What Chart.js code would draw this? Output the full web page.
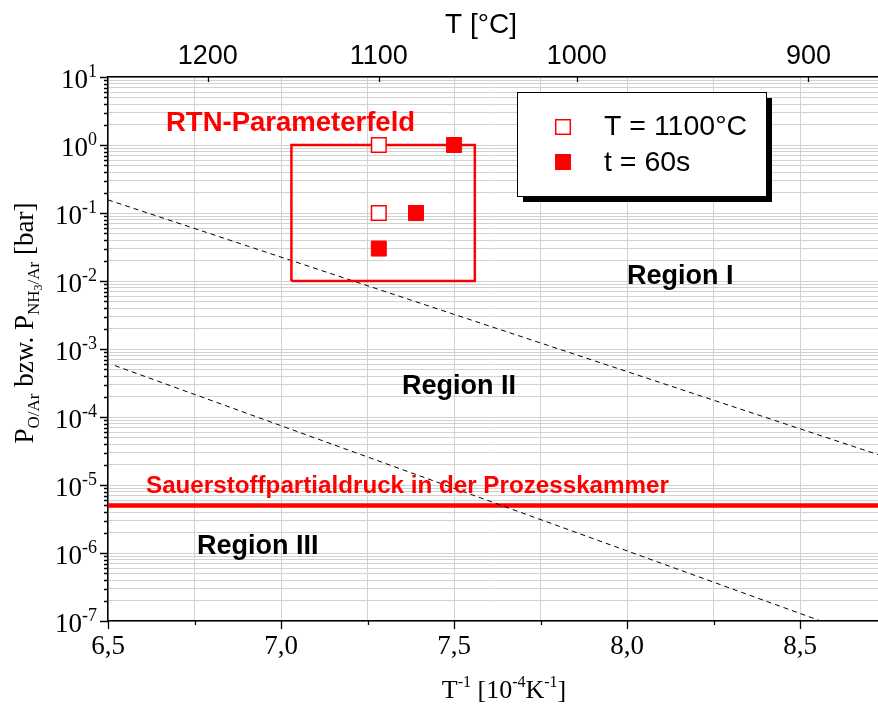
<!DOCTYPE html>
<html><head><meta charset="utf-8">
<script src="https://cdn.jsdelivr.net/npm/chart.js@4/dist/chart.umd.min.js"></script>
<style>html,body{margin:0;padding:0;background:#fff;}canvas{display:block;}</style>
</head><body>
<canvas id="c" width="878" height="707"></canvas>
<script>
// ---- data ----
const xMajorTicks = [6.5, 7.0, 7.5, 8.0, 8.5];
const xMajorLabels = ['6,5', '7,0', '7,5', '8,0', '8,5'];
const xMinorTicks = [6.75, 7.25, 7.75, 8.25];
const topTempsC = [1200, 1100, 1000, 900];
const yDecadeExps = [-7, -6, -5, -4, -3, -2, -1, 0, 1];

const openSqX = [7.2825, 7.2825];          // T = 1100°C
const openSqY = [1, 0.1];
const filledSqX = [7.2825, 7.39, 7.5];      // t = 60s
const filledSqY = [0.03, 0.1, 1];

const rectX = [7.03, 7.03, 7.56, 7.56, 7.03];   // RTN-Parameterfeld
const rectY = [0.01, 1, 1, 0.01, 0.01];

const boundary1X = [6.5, 8.725];
const boundary1Y = [0.156, 2.8e-5];
const boundary2X = [6.52, 8.56];
const boundary2Y = [5.7e-4, 1e-7];

const o2PressureX = [6.5, 8.725];
const o2PressureY = [5e-6, 5e-6];

const legendLabels = ['T = 1100°C', 't = 60s'];

const zip = (xs, ys) => xs.map((x, i) => ({x, y: ys[i]}));
const RED = '#ff0000';
const SERIF = "'Liberation Serif', 'Times New Roman', serif";
const SANS = "'Liberation Sans', Arial, sans-serif";

function richWidth(ctx, parts) {
  let w = 0;
  parts.forEach(p => { ctx.font = (p.weight||'') + ' ' + p.size + 'px ' + p.font; w += ctx.measureText(p.t).width; });
  return w;
}
function drawRich(ctx, parts, x, y, align) {
  const w = richWidth(ctx, parts);
  let cx = align === 'center' ? x - w / 2 : (align === 'right' ? x - w : x);
  ctx.textAlign = 'left';
  ctx.textBaseline = 'alphabetic';
  parts.forEach(p => {
    ctx.font = (p.weight||'') + ' ' + p.size + 'px ' + p.font;
    ctx.fillText(p.t, cx, y + (p.dy || 0));
    cx += ctx.measureText(p.t).width;
  });
}

const decorPlugin = {
  id: 'decor',
  afterDatasetsDraw(chart) {
    const ctx = chart.ctx;
    ctx.save();
    ctx.fillStyle = RED;
    ctx.textBaseline = 'alphabetic';
    ctx.textAlign = 'left';
    ctx.font = 'bold 27.5px ' + SANS;
    ctx.fillText('RTN-Parameterfeld', 166, 131);
    ctx.font = 'bold 24.2px ' + SANS;
    ctx.fillText('Sauerstoffpartialdruck in der Prozesskammer', 146, 493);
    ctx.fillStyle = '#000';
    ctx.font = 'bold 27px ' + SANS;
    ctx.fillText('Region I', 627, 283.5);
    ctx.fillText('Region II', 402, 393.5);
    ctx.fillText('Region III', 197, 554);

    // legend box with shadow
    const bx = 517, by = 92, bw = 249, bh = 104, sh = 6;
    ctx.fillStyle = '#000';
    ctx.fillRect(bx + sh, by + sh, bw, bh);
    ctx.fillStyle = '#fff';
    ctx.fillRect(bx, by, bw, bh);
    ctx.strokeStyle = '#000';
    ctx.lineWidth = 1;
    ctx.strokeRect(bx + 0.5, by + 0.5, bw, bh);
    legendLabels.forEach((lab, i) => {
      const ds = chart.data.datasets[i];
      const cy = 127 + i * 35;
      const side = ds.pointRadius * Math.SQRT2;
      ctx.fillStyle = ds.pointBackgroundColor;
      ctx.fillRect(563 - side / 2, cy - side / 2, side, side);
      ctx.strokeStyle = ds.pointBorderColor;
      ctx.lineWidth = ds.pointBorderWidth;
      ctx.strokeRect(563 - side / 2, cy - side / 2, side, side);
      ctx.fillStyle = '#000';
      ctx.font = '28.5px ' + SANS;
      ctx.fillText(lab, 604, 135 + i * 35.5);
    });
    ctx.restore();
  },
  afterDraw(chart) {
    const ctx = chart.ctx;
    const a = chart.chartArea;
    const xs = chart.scales.x, ys = chart.scales.y, xt = chart.scales.x2;
    ctx.save();
    ctx.strokeStyle = '#000';
    ctx.lineWidth = 1.3;
    ctx.beginPath();
    xMajorTicks.forEach(v => { const p = Math.round(xs.getPixelForValue(v)) + 0.5; ctx.moveTo(p, a.bottom); ctx.lineTo(p, a.bottom + 8); });
    xMinorTicks.forEach(v => { const p = Math.round(xs.getPixelForValue(v)) + 0.5; ctx.moveTo(p, a.bottom); ctx.lineTo(p, a.bottom + 4); });
    yDecadeExps.forEach(k => {
      const p = Math.round(ys.getPixelForValue(Math.pow(10, k))) + 0.5;
      ctx.moveTo(a.left, p); ctx.lineTo(a.left - 8, p);
      if (k < 1) for (let m = 2; m <= 9; m++) {
        const q = Math.round(ys.getPixelForValue(m * Math.pow(10, k))) + 0.5;
        ctx.moveTo(a.left, q); ctx.lineTo(a.left - 4, q);
      }
    });
    topTempsC.forEach(t => { const p = Math.round(xt.getPixelForValue(1e4 / (t + 273.15))) + 0.5; ctx.moveTo(p, a.top); ctx.lineTo(p, a.top + 5); });
    ctx.stroke();

    ctx.fillStyle = '#000';
    yDecadeExps.forEach(k => {
      const p = ys.getPixelForValue(Math.pow(10, k));
      drawRich(ctx, [
        {t: '10', size: 27, font: SERIF, dy: 11},
        {t: String(k), size: 18, font: SERIF, dy: 0}
      ], 97, p, 'right');
    });

    ctx.font = '28px ' + SANS;
    ctx.textAlign = 'center';
    ctx.textBaseline = 'alphabetic';
    ctx.fillText('T [°C]', 481, 33);

    drawRich(ctx, [
      {t: 'T', size: 26, font: SERIF},
      {t: '-1', size: 16, font: SERIF, dy: -11},
      {t: ' [10', size: 26, font: SERIF},
      {t: '-4', size: 16, font: SERIF, dy: -11},
      {t: 'K', size: 26, font: SERIF},
      {t: '-1', size: 16, font: SERIF, dy: -11},
      {t: ']', size: 26, font: SERIF}
    ], 504, 698, 'center');

    ctx.save();
    ctx.translate(33, 323);
    ctx.rotate(-Math.PI / 2);
    drawRich(ctx, [
      {t: 'P', size: 27, font: SERIF},
      {t: 'O/Ar', size: 17, font: SERIF, dy: 6},
      {t: ' bzw. P', size: 27, font: SERIF},
      {t: 'NH', size: 17, font: SERIF, dy: 6},
      {t: '3', size: 12, font: SERIF, dy: 9},
      {t: '/Ar', size: 17, font: SERIF, dy: 6},
      {t: ' [bar]', size: 27, font: SERIF}
    ], 0, 0, 'center');
    ctx.restore();
    ctx.restore();
  }
};

const yGridValues = [];
yDecadeExps.forEach(k => { if (k < 1) { for (let m = 1; m <= 9; m++) yGridValues.push(m * Math.pow(10, k)); } else yGridValues.push(Math.pow(10, k)); });

new Chart(document.getElementById('c'), {
  type: 'scatter',
  data: {
    datasets: [
      { label: legendLabels[0], data: zip(openSqX, openSqY), pointStyle: 'rect', pointRadius: 10.3,
        pointBackgroundColor: '#ffffff', pointBorderColor: RED, pointBorderWidth: 1.5, showLine: false, order: 0 },
      { label: legendLabels[1], data: zip(filledSqX, filledSqY), pointStyle: 'rect', pointRadius: 10.6,
        pointBackgroundColor: RED, pointBorderColor: RED, pointBorderWidth: 1, showLine: false, order: 0 },
      { label: 'RTN-Parameterfeld', data: zip(rectX, rectY), showLine: true, borderColor: RED, borderWidth: 2.5,
        pointRadius: 0, tension: 0, order: 1 },
      { label: 'Grenze I/II', data: zip(boundary1X, boundary1Y), showLine: true, borderColor: '#000', borderWidth: 1,
        borderDash: [5, 4], pointRadius: 0, order: 2 },
      { label: 'Grenze II/III', data: zip(boundary2X, boundary2Y), showLine: true, borderColor: '#000', borderWidth: 1,
        borderDash: [5, 4], pointRadius: 0, order: 2 },
      { label: 'Sauerstoffpartialdruck', data: zip(o2PressureX, o2PressureY), showLine: true, borderColor: RED, borderWidth: 4.5,
        pointRadius: 0, order: 2 }
    ]
  },
  options: {
    responsive: false,
    animation: false,
    devicePixelRatio: 1,
    layout: { padding: 0, autoPadding: false },
    plugins: { legend: { display: false }, tooltip: { enabled: false } },
    scales: {
      x: {
        type: 'linear', position: 'bottom', min: 6.5, max: 8.725,
        afterBuildTicks: s => { s.ticks = xMajorTicks.concat(xMinorTicks).sort((a, b) => a - b).map(v => ({value: v})); },
        afterFit: s => { s.height = 86; s.paddingLeft = 0; s.paddingRight = 0; },
        ticks: {
          autoSkip: false, maxRotation: 0, minRotation: 0, padding: 10, color: '#000',
          font: { family: SERIF, size: 27 },
          callback: v => { const i = xMajorTicks.findIndex(m => Math.abs(m - v) < 1e-9); return i >= 0 ? xMajorLabels[i] : ''; }
        },
        grid: { color: '#d2d2d2', lineWidth: 1, drawTicks: false },
        border: { color: '#000', width: 1.5 }
      },
      x2: {
        type: 'linear', position: 'top', min: 6.5, max: 8.725,
        afterBuildTicks: s => { s.ticks = topTempsC.map(t => ({value: 1e4 / (t + 273.15)})); },
        afterFit: s => { s.height = 77; s.paddingLeft = 0; s.paddingRight = 0; },
        ticks: {
          autoSkip: false, maxRotation: 0, minRotation: 0, padding: 4, color: '#000',
          font: { family: SANS, size: 27 },
          callback: (v, i) => String(topTempsC[i])
        },
        grid: { drawOnChartArea: false, drawTicks: false },
        border: { color: '#000', width: 1.5 }
      },
      y: {
        type: 'logarithmic', position: 'left', min: 1e-7, max: 10,
        afterBuildTicks: s => { s.ticks = yGridValues.map(v => ({value: v})); },
        afterFit: s => { s.width = 108; s.paddingTop = 0; s.paddingBottom = 0; },
        ticks: { display: false, autoSkip: false },
        grid: { color: '#d2d2d2', lineWidth: 1, drawTicks: false },
        border: { color: '#000', width: 1.5 }
      }
    }
  },
  plugins: [decorPlugin]
});
</script>
</body></html>
